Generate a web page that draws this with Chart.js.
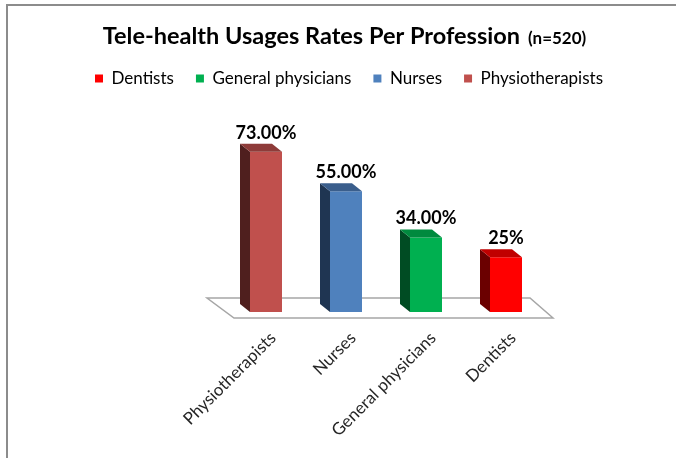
<!DOCTYPE html>
<html lang="en">
<head>
  <meta charset="UTF-8" />
  <title>Tele-health Usages Rates Per Profession</title>
  <script src="https://cdn.jsdelivr.net/npm/chart.js"></script>
  <style>
    html, body { margin: 0; padding: 0; background: #fff; }
    #wrap { position: relative; width: 676px; height: 458px; overflow: hidden; }
    #frame { position: absolute; left: 6px; top: 4px; width: 700px; height: 500px;
             border-top: 2px solid #8c8c8c; border-left: 2px solid #8c8c8c; }
    canvas { position: absolute; left: 0; top: 0; }
  </style>
</head>
<body>
  <div id="wrap">
    <div id="frame"></div>
    <canvas id="chart" width="676" height="458"></canvas>
  </div>

  <script>
    const categories = ["Physiotherapists", "Nurses", "General physicians", "Dentists"];
    const usage = [73, 55, 34, 25];
    const valueLabels = ["73.00%", "55.00%", "34.00%", "25%"];
    const frontColors = ["#c0504d", "#4f81bd", "#00b050", "#ff0000"];
    const sideColors = ["#4f1f1e", "#1f3552", "#004c23", "#6b0000"];
    const topColors = ["#8e3b39", "#3a5e8c", "#008a3e", "#c00000"];
    const titleMain = "Tele-health Usages Rates Per Profession";
    const titleNote = "(n=520)";

    const FONT = "Lato, 'Open Sans', sans-serif";
    const depthX = -10, depthY = -8;

    // floor slab under the bars
    const floorPlugin = {
      id: "floor",
      beforeDatasetsDraw(chart) {
        const { ctx, scales: { x, y } } = chart;
        const y0 = y.getPixelForValue(0);
        ctx.save();
        ctx.beginPath();
        ctx.moveTo(x.left + 8, y0 + 6);
        ctx.lineTo(x.right + 7, y0 + 6);
        ctx.lineTo(x.right - 16, y0 - 14);
        ctx.lineTo(x.left - 19, y0 - 14);
        ctx.closePath();
        ctx.fillStyle = "#fff";
        ctx.fill();
        ctx.strokeStyle = "#a6a6a6";
        ctx.lineWidth = 1.5;
        ctx.stroke();
        ctx.restore();
      }
    };

    // side + top faces and value labels
    const bar3dPlugin = {
      id: "bar3d",
      afterDatasetsDraw(chart) {
        const ctx = chart.ctx;
        const meta = chart.getDatasetMeta(0);
        ctx.save();
        meta.data.forEach((bar, i) => {
          const half = bar.width / 2;
          const l = bar.x - half, r = bar.x + half, t = bar.y, b = bar.base;
          ctx.fillStyle = sideColors[i];
          ctx.beginPath();
          ctx.moveTo(l, t);
          ctx.lineTo(l + depthX, t + depthY);
          ctx.lineTo(l + depthX, b + depthY);
          ctx.lineTo(l, b);
          ctx.closePath();
          ctx.fill();
          ctx.fillStyle = topColors[i];
          ctx.beginPath();
          ctx.moveTo(l, t);
          ctx.lineTo(l + depthX, t + depthY);
          ctx.lineTo(r + depthX, t + depthY);
          ctx.lineTo(r, t);
          ctx.closePath();
          ctx.fill();

          ctx.fillStyle = "#000";
          ctx.font = "bold 18px " + FONT;
          ctx.textAlign = "center";
          ctx.textBaseline = "alphabetic";
          ctx.fillText(valueLabels[i], bar.x, t - 13);
        });
        ctx.restore();
      }
    };

    const titlePlugin = {
      id: "mixedTitle",
      afterDraw(chart) {
        const ctx = chart.ctx;
        ctx.save();
        ctx.fillStyle = "#000";
        ctx.textBaseline = "alphabetic";
        ctx.textAlign = "left";
        ctx.font = "bold 23.5px " + FONT;
        const w1 = ctx.measureText(titleMain).width;
        ctx.font = "bold 17px " + FONT;
        const w2 = ctx.measureText(titleNote).width;
        const gap = 8;
        let x0 = 344.5 - (w1 + gap + w2) / 2;
        ctx.font = "bold 23.5px " + FONT;
        ctx.fillText(titleMain, x0, 44);
        ctx.font = "bold 17px " + FONT;
        ctx.fillText(titleNote, x0 + w1 + gap, 44);
        ctx.restore();
      }
    };

    new Chart(document.getElementById("chart"), {
      type: "bar",
      data: {
        labels: categories,
        datasets: [{
          data: usage,
          backgroundColor: frontColors,
          borderWidth: 0,
          categoryPercentage: 1,
          barPercentage: 0.4
        }]
      },
      options: {
        responsive: false,
        animation: false,
        layout: { padding: { top: 48, left: 22, right: 0, bottom: 0 } },
        plugins: {
          title: { display: false },
          tooltip: { enabled: false },
          legend: {
            position: "top",
            onClick: null,
            labels: {
              font: { family: FONT, size: 17 },
              color: "#404040",
              boxWidth: 8,
              boxHeight: 8,
              padding: 22,
              generateLabels: () => categories.map((c, i) => ({
                text: c,
                fillStyle: frontColors[i],
                strokeStyle: frontColors[i],
                lineWidth: 0,
                index: i
              })).reverse()
            }
          }
        },
        scales: {
          x: {
            grid: { display: false, drawTicks: false },
            border: { display: false },
            ticks: {
              font: { family: FONT, size: 17 },
              color: "#262626",
              minRotation: 45,
              maxRotation: 45,
              padding: 16,
              labelOffset: 7
            },
            afterFit(s) { s.height = 146; }
          },
          y: {
            min: 0,
            max: 98,
            grid: { display: false },
            border: { display: false },
            ticks: { display: false },
            afterFit(s) { s.width = 204; }
          },
          yr: {
            position: "right",
            grid: { display: false },
            border: { display: false },
            ticks: { display: false },
            afterFit(s) { s.width = 130; }
          }
        }
      },
      plugins: [floorPlugin, bar3dPlugin, titlePlugin]
    });
  </script>
</body>
</html>
